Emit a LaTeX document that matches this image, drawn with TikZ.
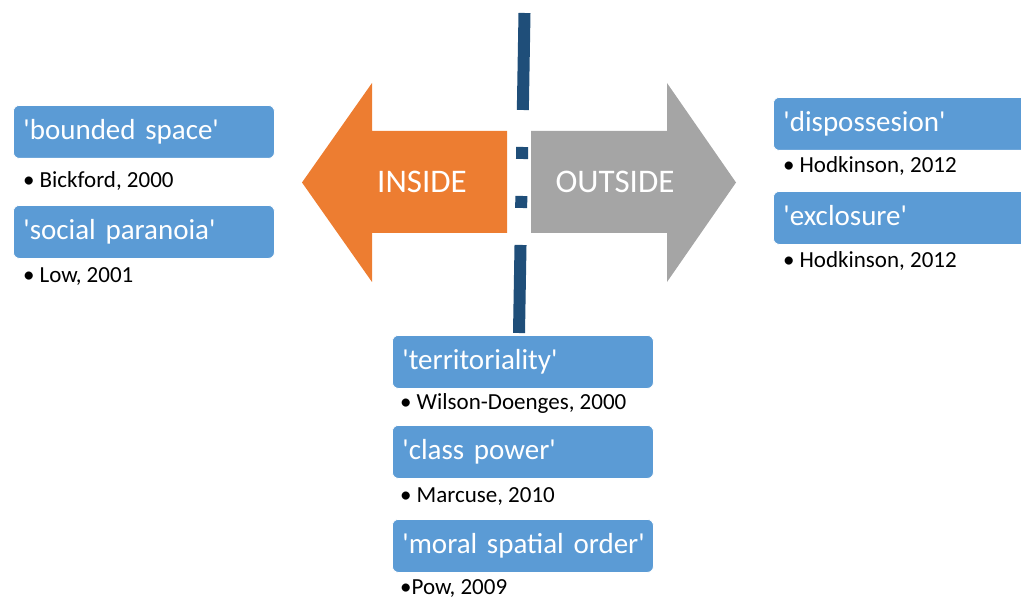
\documentclass[tikz,border=0pt]{standalone}
\usepackage{fontspec}
\setmainfont{Carlito}
\newcommand{\qt}{\textquotesingle}
\definecolor{boxblue}{HTML}{5B9BD5}
\definecolor{arrorange}{HTML}{ED7D31}
\definecolor{arrgray}{HTML}{A5A5A5}
\definecolor{linedark}{HTML}{1F4E79}
\tikzset{
  termbox/.style={anchor=north west, fill=boxblue, draw=white, line width=0.8pt,
    rounded corners=6pt, text=white, inner xsep=10pt, inner ysep=0pt,
    text width=241pt, align=left, text height=34.5pt, text depth=18.5pt,
    font=\fontsize{29}{34}\selectfont},
  cite/.style={anchor=base west, inner sep=0pt, text=black,
    font=\fontsize{23}{28}\selectfont},
  arrowtext/.style={text=white, font=\fontsize{33}{40}\selectfont},
  boundary/.style={draw=linedark, line width=12pt, line cap=butt,
    dash pattern=on 97pt off 37pt on 12pt off 37pt on 12pt off 37pt on 120pt}
}
\begin{document}
\begin{tikzpicture}[x=1pt,y=-1pt]
\useasboundingbox (0,0) rectangle (1021,599);
% arrows
\fill[arrorange] (507,131) -- (372,131) -- (372,83) -- (302,182.5) -- (372,282) -- (372,233) -- (507,233) -- cycle;
\fill[arrgray] (531,131) -- (667,131) -- (667,83) -- (736,182.5) -- (667,282) -- (667,233) -- (531,233) -- cycle;
\node[arrowtext] (inside) at (422,182) {INSIDE};
\node[arrowtext] (outside) at (615,182) {OUTSIDE};
% boundary line
\coordinate (ltop) at (524.5,13);
\coordinate (lbot) at (519,333);
\draw[boundary] (ltop) -- (lbot);
% left
\node[termbox] (b1) at (13,105) {\mbox{\qt bounded space\qt}};
\node[cite] (c1) at (23,188) {•\hspace{5pt}Bickford, 2000};
\node[termbox] (b2) at (13,205) {\mbox{\qt social paranoia\qt}};
\node[cite] (c2) at (23,282) {•\hspace{5pt}Low, 2001};
% right
\node[termbox] (b3) at (773,97) {\mbox{\qt dispossesion\qt}};
\node[cite] (c3) at (783,173) {•\hspace{5pt}Hodkinson, 2012};
\node[termbox] (b4) at (773,191) {\mbox{\qt exclosure\qt}};
\node[cite] (c4) at (783,267) {•\hspace{5pt}Hodkinson, 2012};
% bottom
\node[termbox] (b5) at (392,335) {\mbox{\qt territoriality\qt}};
\node[cite] (c5) at (400,409) {•\hspace{5pt}Wilson-Doenges, 2000};
\node[termbox] (b6) at (392,425) {\mbox{\qt class power\qt}};
\node[cite] (c6) at (400,502) {•\hspace{5pt}Marcuse, 2010};
\node[termbox] (b7) at (392,519) {\mbox{\qt moral spatial order\qt}};
\node[cite] (c7) at (400,594) {•Pow, 2009};
\end{tikzpicture}
\end{document}
